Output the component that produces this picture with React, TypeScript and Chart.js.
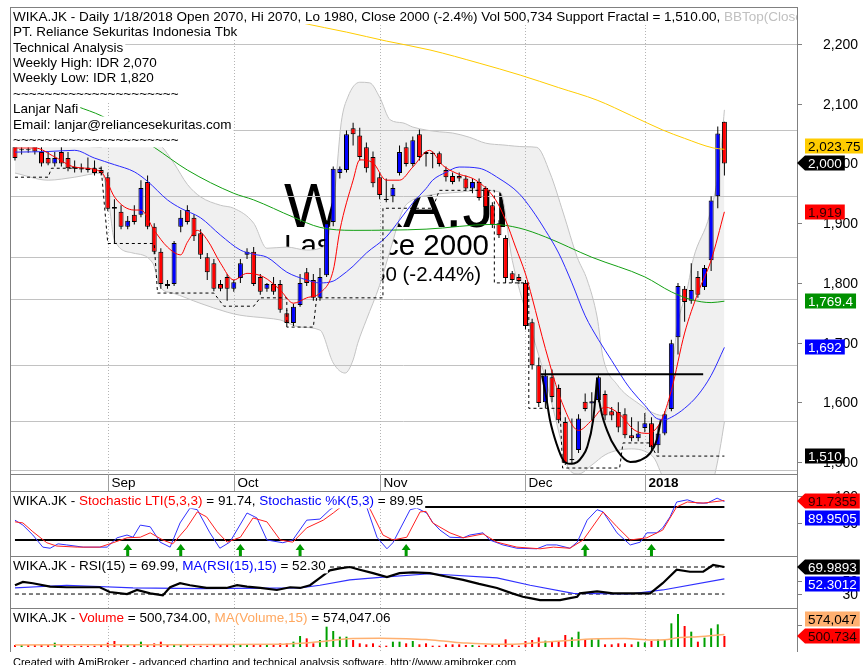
import React, { useEffect, useRef } from 'react';
import { Chart, registerables } from 'chart.js';

Chart.register(...registerables);

const FAMILY = '"Liberation Sans", Arial, Helvetica, sans-serif';
const font = (px: number, bold = false) => `${bold ? 'bold ' : ''}${px}px ${FAMILY}`;

type Knot = [number, number];

// ======================= DATA =======================
const SYMBOL = 'WIKA.JK';
const LAST_DATE = '1/18/2018';
const infoLines = [
  'PT. Reliance Sekuritas Indonesia Tbk',
  'Technical Analysis',
  'Weekly High: IDR 2,070',
  'Weekly Low: IDR 1,820',
  '~~~~~~~~~~~~~~~~~~~~~',
  'Lanjar Nafi',
  'Email: lanjar@reliancesekuritas.com',
  '~~~~~~~~~~~~~~~~~~~~~',
];

const monthLabels = ['Sep', 'Oct', 'Nov', 'Dec', '2018'];
const monthStartBar = [14, 33, 55, 77, 95];

const priceTicks = [2200, 2100, 2000, 1900, 1800, 1700, 1600, 1500];
const priceGridLevels = [2200, 2056, 1945, 1843, 1773, 1662, 1569, 1486];

const openP = [
  2028, 2022, 2024, 2028, 2019, 2009, 2000, 2019, 2009, 1994,
  1992, 1992, 1992, 1989, 1977, 1927, 1919, 1894, 1914, 1914,
  1969, 1894, 1852, 1798, 1798, 1894, 1922, 1909, 1883, 1843,
  1833, 1798, 1810, 1790, 1808, 1847, 1852, 1810, 1790, 1798,
  1798, 1749, 1733, 1763, 1818, 1805, 1775, 1813, 1902, 1984,
  1989, 2059, 2047, 2027, 2011, 1977, 1941, 1945, 1984, 2027,
  1999, 2049, 2019, 2018, 2017, 1989, 1979, 1979, 1975, 1958,
  1969, 1959, 1930, 1900, 1875, 1816, 1810, 1800, 1734, 1662,
  1600, 1642, 1624, 1567, 1503, 1520, 1601, 1598, 1604, 1614,
  1585, 1584, 1580, 1545, 1540, 1557, 1565, 1528, 1548, 1589,
  1709, 1790, 1770, 1810, 1793, 1838, 1945, 2070,
];
const highP = [
  2035, 2030, 2030, 2035, 2028, 2019, 2019, 2028, 2019, 2005,
  2000, 2010, 2005, 1995, 1985, 1940, 1930, 1912, 1930, 1972,
  1980, 1900, 1858, 1805, 1870, 1922, 1930, 1915, 1890, 1850,
  1840, 1805, 1815, 1805, 1840, 1858, 1860, 1815, 1800, 1810,
  1805, 1755, 1765, 1815, 1825, 1815, 1825, 1905, 1995, 1995,
  2055, 2068, 2060, 2035, 2020, 1985, 1975, 1965, 2030, 2035,
  2045, 2057, 2020, 2020, 2020, 1995, 1985, 1985, 1980, 1975,
  1975, 1962, 1935, 1905, 1880, 1820, 1815, 1805, 1740, 1675,
  1655, 1655, 1630, 1575, 1573, 1580, 1615, 1617, 1645, 1620,
  1592, 1600, 1590, 1575, 1568, 1582, 1575, 1560, 1585, 1705,
  1800, 1795, 1833, 1820, 1830, 1945, 2062, 2070,
];
const lowP = [
  2005, 2015, 2018, 2015, 1995, 1997, 1995, 1995, 1987, 1985,
  1985, 1985, 1980, 1980, 1920, 1867, 1890, 1890, 1898, 1910,
  1890, 1848, 1790, 1790, 1795, 1885, 1898, 1870, 1840, 1805,
  1786, 1786, 1770, 1785, 1800, 1840, 1795, 1780, 1785, 1780,
  1750, 1728, 1728, 1760, 1795, 1770, 1770, 1810, 1895, 1975,
  1985, 2030, 2005, 1985, 1960, 1940, 1935, 1935, 1980, 1995,
  1995, 2005, 1995, 1992, 1995, 1970, 1965, 1970, 1955, 1950,
  1938, 1922, 1892, 1875, 1800, 1800, 1798, 1722, 1655, 1592,
  1590, 1600, 1565, 1495, 1496, 1515, 1585, 1570, 1600, 1570,
  1570, 1550, 1540, 1535, 1535, 1550, 1520, 1515, 1545, 1585,
  1680, 1735, 1765, 1775, 1788, 1820, 1925, 1980,
];
const closeP = [
  2009, 2024, 2022, 2020, 2000, 2000, 2009, 2000, 1992, 1991,
  1990, 1989, 1984, 1984, 1924, 1924, 1894, 1904, 1902, 1959,
  1894, 1852, 1798, 1795, 1867, 1909, 1902, 1878, 1847, 1818,
  1790, 1790, 1790, 1801, 1833, 1852, 1798, 1785, 1798, 1785,
  1755, 1733, 1760, 1800, 1800, 1775, 1810, 1900, 1991, 1991,
  2049, 2049, 2011, 1992, 1967, 1947, 1939, 1959, 2019, 1999,
  2039, 2011, 2016, 2016, 1999, 1977, 1969, 1975, 1958, 1969,
  1942, 1927, 1897, 1880, 1808, 1805, 1803, 1728, 1662, 1599,
  1645, 1609, 1570, 1498, 1505, 1573, 1589, 1602, 1642, 1578,
  1578, 1558, 1545, 1540, 1548, 1565, 1525, 1548, 1580, 1699,
  1795, 1768, 1788, 1780, 1825, 1938, 2050, 2000,
];
const volume = [
  91000, 91000, 91000, 91000, 91000, 91000, 197000, 91000, 61000, 61000,
  61000, 61000, 61000, 91000, 197000, 273000, 91000, 121000, 91000, 243000,
  91000, 167000, 243000, 121000, 121000, 121000, 91000, 61000, 61000, 61000,
  91000, 91000, 121000, 91000, 121000, 121000, 91000, 91000, 91000, 91000,
  167000, 167000, 243000, 500000, 394000, 167000, 318000, 925000, 728000, 470000,
  470000, 318000, 167000, 121000, 167000, 61000, 61000, 243000, 243000, 167000,
  273000, 121000, 167000, 61000, 61000, 121000, 121000, 121000, 91000, 91000,
  61000, 91000, 91000, 91000, 349000, 91000, 61000, 273000, 318000, 440000,
  288000, 243000, 273000, 546000, 440000, 698000, 349000, 349000, 349000, 121000,
  121000, 167000, 167000, 121000, 243000, 212000, 273000, 349000, 349000, 1077000,
  1502000, 956000, 698000, 243000, 425000, 850000, 1032000, 500734,
];

// indicator readings (bar index, value)
const bbUpper: Knot[] = [
  [0, 2031], [7, 2034], [13, 2027], [14, 2042], [16, 2050], [18, 2050], [20, 2045], [22, 2030],
  [24, 2000], [26, 1965], [28, 1944], [31, 1930], [33, 1925], [36, 1900], [38, 1858], [41, 1860],
  [44, 1855], [46, 1858], [47.3, 1880], [48.3, 1960], [49.2, 2068], [50.2, 2111], [52, 2136],
  [53.5, 2135], [55, 2111], [56.6, 2073], [58.5, 2068], [60, 2061], [62, 2056], [64, 2053], [66, 2051],
  [68.5, 2044], [71, 2034], [73.6, 2031], [77, 2028], [78.7, 2027], [80.7, 1984], [82.7, 1917],
  [84.8, 1843], [86.3, 1805], [87.8, 1743], [88.7, 1675], [90.8, 1630], [93.8, 1600], [97.7, 1578],
  [98.8, 1610], [99.8, 1720], [101.4, 1790], [102.3, 1840], [104.8, 1915], [106.3, 2001], [107, 2089.77],
];
const bbLower: Knot[] = [
  [0, 1984], [5, 1972], [9, 1977], [13, 1984], [14, 1947], [15, 1872], [17.8, 1850], [20.8, 1833],
  [21.9, 1793], [23.8, 1783], [27.9, 1766], [32, 1751], [33.9, 1746], [38, 1741], [40, 1738], [43, 1726],
  [46, 1721], [48, 1666], [49.8, 1649], [51, 1671], [51.7, 1699], [53, 1738], [55, 1796], [56.6, 1855],
  [58.5, 1922], [60, 1939], [62.6, 1947], [67.1, 1952], [70, 1955], [73.2, 1952], [75, 1838], [78, 1716],
  [80.2, 1632], [82.7, 1520], [83.4, 1491], [85, 1480], [87, 1495], [89, 1512], [91, 1520], [93, 1522],
  [95, 1518], [96.5, 1505], [97.7, 1475], [99, 1455], [102, 1450], [104, 1455], [105.3, 1470],
  [106.3, 1520], [107, 1567.23],
];
const maYellow: Knot[] = [
  [38, 2249], [43.4, 2235], [50, 2220], [56, 2205], [62.6, 2190], [70, 2168], [76.2, 2148], [82, 2127],
  [87.8, 2106], [93, 2080], [97.7, 2056], [101, 2042], [105.3, 2026], [107, 2023.75],
];
const maGreen: Knot[] = [
  [9.5, 2095], [13, 2080], [17, 2055], [21, 2027], [26, 1989], [33, 1950], [36, 1939], [42, 1910],
  [46, 1893], [51, 1888], [62, 1890], [72, 1898], [76, 1892], [80, 1877], [87, 1843], [95, 1810],
  [99, 1785], [102, 1772], [105, 1767], [107, 1769.4],
];
const maBlue: Knot[] = [
  [0, 2019], [5, 2020], [9, 2022], [12, 2009], [15, 1998], [18, 1986], [20, 1970], [23, 1939],
  [25, 1925], [28, 1909], [31, 1880], [34, 1855], [36, 1848], [38, 1843], [41, 1818], [44, 1805],
  [46, 1800], [48, 1803], [49, 1810], [51, 1828], [53, 1850], [56, 1877], [58, 1905], [60, 1934],
  [62, 1958], [63, 1972], [65, 1985], [67, 1994], [70, 1992], [73, 1975], [76, 1950], [78, 1922],
  [80, 1888], [82, 1850], [84, 1800], [86, 1745], [88, 1705], [90, 1670], [92, 1635], [93, 1620],
  [95, 1595], [97, 1572], [98, 1571], [99, 1575], [101, 1590], [103, 1612], [105, 1645], [107, 1692],
];
const maRed: Knot[] = [
  [0, 2026], [3, 2026], [6, 2011], [9, 1994], [13, 1986], [14, 1967], [15, 1944], [18, 1922],
  [19, 1922], [21, 1888], [23, 1860], [25, 1847], [26, 1868], [27.5, 1888], [29, 1872], [31, 1833],
  [33, 1805], [35, 1816], [37.5, 1810], [40, 1788], [42, 1766], [44, 1775], [46, 1783], [48, 1821],
  [49, 1888], [51, 1972], [52, 2006], [54, 2001], [56, 1972], [58, 1972], [60, 1994], [62.5, 2022],
  [64.5, 1997], [66.5, 1984], [69.5, 1972], [72.5, 1939], [74, 1905], [75.5, 1860], [77, 1815],
  [78, 1775], [80, 1690], [82.5, 1600], [85, 1553], [87, 1570], [89, 1592], [91, 1582], [93.5, 1553],
  [95.5, 1548], [97.5, 1570], [99, 1620], [101, 1716], [103, 1783], [105, 1838], [107, 1919],
];
const supportFractal: Knot[] = [
  [0, 1977], [5, 1977], [5.5, 1992], [13, 1992], [14, 1866], [21, 1866], [21.5, 1783], [30, 1783],
  [31.5, 1761], [36, 1761], [37, 1775], [41, 1775], [41, 1726], [45, 1726], [45.5, 1775], [55.5, 1775],
  [55.5, 1925], [63, 1925], [64, 1955], [72.3, 1955], [72.3, 1800], [77.5, 1800], [77.5, 1590],
  [82.2, 1590], [82.6, 1490], [91.2, 1490], [91.7, 1532], [95.8, 1532], [96.8, 1510], [107, 1510],
];
const resistanceLine: Knot[] = [[79.3, 1647], [103.8, 1647]];
const cupLeft: Knot[] = [
  [79.5, 1645], [80.1, 1610], [80.7, 1570], [81.7, 1530], [82.7, 1503], [83.7, 1497], [84.8, 1500],
  [85.6, 1510], [86.3, 1525], [87.2, 1570], [87.8, 1640],
];
const cupRight: Knot[] = [
  [87.8, 1640], [88.1, 1605], [89.3, 1553], [90.8, 1520], [92.8, 1500], [94.3, 1503], [95.8, 1515],
  [96.8, 1537], [97.4, 1570],
];

const stochK: Knot[] = [
  [0, 56], [1.2, 47], [2.7, 29], [4.2, 7], [5.3, 5], [6.5, 13], [7.8, 11], [10.3, 7], [13.9, 7],
  [15.4, 24], [16.9, 29], [17.8, 25], [18.9, 47], [20.4, 44], [21.9, 16], [23.4, 7], [24.9, 51],
  [26.4, 78], [27.5, 75], [29.4, 33], [30.9, 5], [32.4, 16], [35, 69], [36.5, 60], [38, 20], [40.4, 15],
  [41.9, 20], [44, 56], [46, 58], [47.5, 75], [48.6, 84], [50, 96], [52, 97], [53.1, 78], [54.6, 25],
  [56.1, 4], [57, 15], [59.6, 75], [60.6, 78], [62.1, 69], [63, 52], [64.1, 38], [65.6, 25], [67.6, 24],
  [68.6, 29], [70.6, 33], [71.6, 20], [73.6, 11], [75.7, 5], [78.7, 4], [80.2, 11], [81.7, 11],
  [83.7, 5], [84.8, 16], [86.3, 56], [87.8, 75], [88.7, 71], [90.8, 33], [92.8, 11], [94.3, 16],
  [95.3, 33], [96.8, 33], [97.7, 42], [98.8, 62], [99.8, 89], [101.4, 93], [102.9, 87], [104.4, 87],
  [105.9, 96], [107, 89.9505],
];
const stochLTI: Knot[] = [
  [0, 53], [1.2, 51], [2.7, 35], [4.8, 15], [6.3, 9], [9.4, 7], [12.8, 7], [14.8, 15], [16.9, 24],
  [18.9, 25], [20.4, 33], [22.3, 20], [23.8, 13], [25.9, 42], [27.5, 71], [28.9, 62], [30.5, 35],
  [32, 16], [34, 25], [35.9, 60], [38, 53], [40, 20], [41.9, 16], [44, 42], [46.5, 56], [48, 69],
  [50, 88], [52.5, 92], [53.6, 75], [55.5, 29], [57, 20], [59.1, 25], [61.1, 71], [62, 72], [63, 51],
  [65.6, 33], [67.6, 24], [70.6, 31], [72.7, 16], [75.7, 7], [79.2, 4], [81.2, 7], [83.7, 5],
  [85.7, 20], [88.7, 71], [90.8, 44], [92.8, 20], [95.3, 24], [97.7, 38], [99.8, 80], [101.4, 89],
  [103.8, 87], [107, 91.7355],
];
const stochLevels = [80, 20];
const stochSignalBars = [17, 25, 34, 43, 59, 86, 96];

const rsi: Knot[] = [
  [0, 43], [1.2, 48], [2.7, 46], [5.3, 41], [7.8, 40], [12.8, 40], [14.3, 33], [16.9, 30], [18.4, 36],
  [20.4, 31], [22.3, 28], [23.4, 40], [24.9, 46], [26.4, 43], [28.9, 39], [31.9, 39], [33.5, 43],
  [35, 41], [37, 39], [39.5, 36], [41.5, 40], [43, 39], [44.5, 43], [46, 54], [47.5, 65], [49, 68],
  [50.5, 70], [52, 66], [54, 61], [56.1, 55], [58, 61], [60, 62], [62.6, 61], [65, 56], [67.6, 51],
  [70, 45], [72.7, 39], [75, 31], [76.6, 26], [77.7, 24], [79.2, 21], [82.2, 21], [83.7, 24],
  [84.8, 26], [85.2, 31], [87.8, 34], [90.2, 31], [92.7, 31], [95.8, 31], [97.7, 46], [99.8, 66],
  [101.8, 63], [103.8, 63], [105.3, 73], [107, 69.9893],
];
const rsiMA: Knot[] = [
  [0, 39], [7.8, 43], [17.8, 39], [28, 38], [43, 39], [46, 43], [50.5, 51], [55.5, 55], [62.6, 60],
  [72.7, 54], [77.7, 43], [84.2, 31], [92.7, 30], [97.7, 36], [107, 52.3012],
];
const rsiLevels = [70, 30];

const volumeMA: Knot[] = [
  [0, 95000], [20, 105000], [40, 120000], [43, 170000], [46, 240000], [48, 310000], [51, 390000],
  [55, 400000], [59, 380000], [62, 340000], [65, 260000], [68, 180000], [72, 125000], [76, 140000],
  [80, 230000], [84, 310000], [88, 380000], [92, 385000], [96, 320000], [98, 330000], [100, 420000],
  [103, 470000], [107, 574047.06],
];

// ======================= LAYOUT =======================
const W = 863;
const PAD = { left: 10, right: 66 };
const X_MIN = -0.75;
const X_MAX = 117.95;

const lastOf = (k: Knot[]) => k[k.length - 1][1];
const fmt = (v: number, d: number) =>
  v.toLocaleString('en-US', { minimumFractionDigits: d, maximumFractionDigits: d });
const fmtAuto = (v: number) => v.toLocaleString('en-US', { maximumFractionDigits: 2 });

const N = closeP.length;
const bars = closeP.map((_, i) => i);
const isUp = bars.map((i) => closeP[i] >= openP[i]);

function lineDs(k: Knot[], color: string, width = 1, smooth = true, extra: any = {}) {
  return {
    type: 'line',
    data: k.map(([x, y]) => ({ x, y })),
    borderColor: color,
    borderWidth: width,
    pointRadius: 0,
    fill: false,
    tension: 0,
    cubicInterpolationMode: smooth ? 'monotone' : 'default',
    ...extra,
  };
}

function baseOptions(yMin: number, yMax: number, top: number, bottom: number): any {
  return {
    responsive: false,
    animation: false,
    events: [],
    layout: { padding: { left: PAD.left, right: PAD.right, top, bottom } },
    plugins: { legend: { display: false }, tooltip: { enabled: false }, title: { display: false } },
    scales: {
      x: { type: 'linear', min: X_MIN, max: X_MAX, display: false, offset: false },
      y: { type: 'linear', min: yMin, max: yMax, display: false },
    },
  };
}

function hline(ctx: CanvasRenderingContext2D, x0: number, x1: number, y: number) {
  ctx.beginPath();
  ctx.moveTo(x0, y);
  ctx.lineTo(x1, y);
  ctx.stroke();
}
function vline(ctx: CanvasRenderingContext2D, x: number, y0: number, y1: number) {
  ctx.beginPath();
  ctx.moveTo(x, y0);
  ctx.lineTo(x, y1);
  ctx.stroke();
}

function drawTextLine(ctx: CanvasRenderingContext2D, x: number, base: number, segs: [string, string][], px = 13.5) {
  ctx.font = font(px);
  ctx.textAlign = 'left';
  ctx.textBaseline = 'alphabetic';
  const widths = segs.map((s) => ctx.measureText(s[0]).width);
  const total = widths.reduce((p, c) => p + c, 0);
  ctx.fillStyle = '#ffffff';
  ctx.fillRect(x - 2, base - 12, total + 4, 15.4);
  let cx = x;
  segs.forEach((s, k) => {
    ctx.fillStyle = s[1];
    ctx.fillText(s[0], cx, base);
    cx += widths[k];
  });
}

function drawMonthLines(chart: any) {
  const { ctx, chartArea: a, scales } = chart;
  ctx.save();
  ctx.strokeStyle = '#b4b4b4';
  ctx.lineWidth = 1;
  ctx.setLineDash([1, 2]);
  monthStartBar.forEach((b) => {
    const px = Math.round(scales.x.getPixelForValue(b)) + 0.5;
    vline(ctx, px, a.top, a.bottom);
  });
  ctx.restore();
}

type Box = { value: number; text: string; bg: string; fg: string; arrow?: boolean };

function drawBoxes(ctx: CanvasRenderingContext2D, yScale: any, axisX: number, boxes: Box[]) {
  const primary = boxes.find((b) => b.arrow);
  const py = primary ? yScale.getPixelForValue(primary.value) : null;
  const ordered = [...boxes.filter((b) => !b.arrow), ...boxes.filter((b) => b.arrow)];
  ordered.forEach((b) => {
    let cy = yScale.getPixelForValue(b.value);
    if (!b.arrow && py !== null && Math.abs(cy - py) < 17) cy = cy < py ? py - 17 : py + 17;
    cy = Math.round(cy);
    ctx.font = font(13.5);
    const tw = ctx.measureText(b.text).width;
    const x0 = axisX + 8;
    const x1 = x0 + tw + 6;
    const h = 15;
    ctx.fillStyle = b.bg;
    ctx.beginPath();
    if (b.arrow) {
      ctx.moveTo(axisX, cy);
      ctx.lineTo(x0, cy - h / 2);
    } else ctx.moveTo(x0, cy - h / 2);
    ctx.lineTo(x1, cy - h / 2);
    ctx.lineTo(x1, cy + h / 2);
    ctx.lineTo(x0, cy + h / 2);
    ctx.closePath();
    ctx.fill();
    ctx.fillStyle = b.fg;
    ctx.textAlign = 'left';
    ctx.textBaseline = 'middle';
    ctx.fillText(b.text, x0 + 3, cy + 1);
  });
}

function drawAxisTicks(ctx: CanvasRenderingContext2D, yScale: any, axisX: number, ticks: number[], label: (v: number) => string | null) {
  ctx.strokeStyle = '#808080';
  ctx.lineWidth = 1;
  ctx.font = font(14);
  ctx.fillStyle = '#000';
  ctx.textAlign = 'right';
  ctx.textBaseline = 'middle';
  ticks.forEach((v) => {
    const y = Math.round(yScale.getPixelForValue(v)) + 0.5;
    hline(ctx, axisX, axisX + 5, y);
    const t = label(v);
    if (t) ctx.fillText(t, W - 5, y + 1);
  });
}

// ---------------- main panel ----------------
const last = N - 1;
const chg = closeP[last] - closeP[last - 1];
const pct = (chg / closeP[last - 1]) * 100;

const mainPlugin = {
  id: 'mainDecor',
  beforeDatasetsDraw(chart: any) {
    const { ctx, chartArea: a } = chart;
    ctx.save();
    ctx.beginPath();
    ctx.rect(a.left, a.top, a.right - a.left, a.bottom - a.top);
    ctx.clip();
    ctx.fillStyle = '#000';
    ctx.textAlign = 'left';
    ctx.textBaseline = 'alphabetic';
    const x0 = a.left + 274;
    ctx.font = font(63);
    ctx.fillText(SYMBOL, x0, a.top + 220);
    ctx.font = font(29.5);
    ctx.fillText(`Last Price ${closeP[last]}`, x0, a.top + 248);
    ctx.font = font(20.5);
    ctx.fillText(`Change: ${chg} (${pct.toFixed(2)}%)`, x0, a.top + 274);
    ctx.restore();
  },
  afterDatasetDraw(chart: any, args: any) {
    if (args.index !== 1) return;
    const { ctx, chartArea: a, scales } = chart;
    ctx.save();
    ctx.strokeStyle = '#c2c2c2';
    ctx.lineWidth = 1;
    priceGridLevels.forEach((v) => {
      const y = Math.round(scales.y.getPixelForValue(v)) + 0.5;
      hline(ctx, a.left, a.right, y);
    });
    ctx.restore();
    drawMonthLines(chart);
  },
  afterDraw(chart: any) {
    const { ctx, chartArea: a, scales } = chart;
    ctx.save();
    // info block
    ctx.save();
    ctx.beginPath();
    ctx.rect(a.left + 1, a.top + 1, a.right - a.left - 1, a.bottom - a.top - 1);
    ctx.clip();
    const title: [string, string][] = [
      [
        `${SYMBOL} - Daily ${LAST_DATE} Open ${openP[last]}, Hi ${highP[last]}, Lo ${lowP[last]}, Close ${closeP[last]} (${pct.toFixed(1)}%) Vol ${fmt(volume[last], 0)} Support Fractal = ${fmt(lastOf(supportFractal), 2)}, `,
        '#000',
      ],
      [`BBTop(Close,20,2) = ${fmt(lastOf(bbUpper), 2)}, BBBot(Close,20,2) = ${fmt(lastOf(bbLower), 2)}`, '#c0c0c0'],
    ];
    const bx = a.left + 3;
    drawTextLine(ctx, bx, a.top + 13.7, title);
    infoLines.forEach((t, k) => drawTextLine(ctx, bx, a.top + 13.7 + 15.4 * (k + 1), [[t, '#000']]));
    ctx.restore();

    // frame
    ctx.strokeStyle = '#808080';
    ctx.lineWidth = 1;
    vline(ctx, a.left + 0.5, a.top, chart.height);
    vline(ctx, a.right + 0.5, a.top, chart.height);
    hline(ctx, a.left, a.right + 1, a.top + 0.5);
    hline(ctx, a.left, a.right + 1, a.bottom + 0.5);

    // date row
    monthStartBar.forEach((b, k) => {
      const px = Math.round(scales.x.getPixelForValue(b)) + 0.5;
      ctx.strokeStyle = '#a0a0a0';
      vline(ctx, px, a.bottom, chart.height);
      ctx.fillStyle = '#000';
      ctx.font = font(13.5, monthLabels[k] === '2018');
      ctx.textAlign = 'left';
      ctx.textBaseline = 'alphabetic';
      ctx.fillText(monthLabels[k], px + 3, a.bottom + 13);
    });

    // axis
    drawAxisTicks(ctx, scales.y, a.right, priceTicks, (v) => fmt(v, 0));
    drawBoxes(ctx, scales.y, a.right, [
      { value: lastOf(maYellow), text: fmtAuto(lastOf(maYellow)), bg: '#ffcc00', fg: '#000' },
      { value: closeP[last], text: fmtAuto(closeP[last]), bg: '#000', fg: '#fff', arrow: true },
      { value: lastOf(maRed), text: fmtAuto(lastOf(maRed)), bg: '#ff0000', fg: '#300000' },
      { value: lastOf(maGreen), text: fmtAuto(lastOf(maGreen)), bg: '#009000', fg: '#fff' },
      { value: lastOf(maBlue), text: fmtAuto(lastOf(maBlue)), bg: '#0000ff', fg: '#fff' },
      { value: lastOf(supportFractal), text: fmtAuto(lastOf(supportFractal)), bg: '#000', fg: '#fff' },
    ]);
    ctx.restore();
  },
};

function mainConfig(): any {
  return {
    type: 'line',
    data: {
      datasets: [
        lineDs(bbUpper, '#c4c4c4', 1, true, { fill: '+1', backgroundColor: '#f0f0f0', order: 100 }),
        lineDs(bbLower, '#c4c4c4', 1, true, { order: 99 }),
        {
          type: 'bar',
          data: bars.map((i) => ({ x: i, y: [lowP[i], highP[i]] })),
          backgroundColor: '#000',
          barThickness: 1,
          grouped: false,
          inflateAmount: 0,
          order: 60,
        },
        {
          type: 'bar',
          data: bars.map((i) => ({ x: i, y: [openP[i], closeP[i]] })),
          backgroundColor: bars.map((i) => (isUp[i] ? '#0000ff' : '#ff0000')),
          borderColor: '#000',
          borderWidth: 1,
          borderSkipped: false,
          barThickness: 5,
          grouped: false,
          inflateAmount: 0,
          order: 59,
        },
        lineDs(maYellow, '#ffcc00', 1, true, { order: 40 }),
        lineDs(maGreen, '#13a013', 1, true, { order: 39 }),
        lineDs(maBlue, '#2a2aff', 1, true, { order: 38 }),
        lineDs(supportFractal, '#000', 1, false, { borderDash: [3, 3], order: 37 }),
        lineDs(maRed, '#ff0000', 1, true, { order: 10 }),
        lineDs(resistanceLine, '#000', 2, false, { order: 3 }),
        lineDs(cupLeft, '#000', 2, true, { order: 2 }),
        lineDs(cupRight, '#000', 2, true, { order: 1 }),
      ],
    },
    options: baseOptions(1480, 2262, 7, 17),
    plugins: [mainPlugin],
  };
}

// ---------------- sub panels ----------------
function subPlugin(id: string, title: () => [string, string][], ticks: number[], tickLabel: (v: number) => string | null, boxes: () => Box[], extra?: (chart: any) => void, footer?: string) {
  return {
    id,
    beforeDatasetsDraw(chart: any) {
      drawMonthLines(chart);
    },
    afterDatasetsDraw(chart: any) {
      if (extra) extra(chart);
    },
    afterDraw(chart: any) {
      const { ctx, chartArea: a, scales } = chart;
      ctx.save();
      ctx.save();
      ctx.beginPath();
      ctx.rect(a.left + 1, a.top + 1, a.right - a.left - 1, a.bottom - a.top - 1);
      ctx.clip();
      drawTextLine(ctx, a.left + 3, a.top + 14, title());
      ctx.restore();
      ctx.strokeStyle = '#808080';
      ctx.lineWidth = 1;
      vline(ctx, a.left + 0.5, a.top, a.bottom);
      vline(ctx, a.right + 0.5, a.top, a.bottom);
      hline(ctx, a.left, a.right + 1, a.top + 0.5);
      drawAxisTicks(ctx, scales.y, a.right, ticks, tickLabel);
      drawBoxes(ctx, scales.y, a.right, boxes());
      if (footer) {
        ctx.fillStyle = '#000';
        ctx.font = font(11);
        ctx.textAlign = 'left';
        ctx.textBaseline = 'alphabetic';
        ctx.fillText(footer, a.left + 3, chart.height + 1);
      }
      ctx.restore();
    },
  };
}

function levelDs(level: number, color: string, width: number, dash: number[] = []) {
  return lineDs([[0, level], [N - 1, level]], color, width, false, { borderDash: dash });
}

function stochConfig(): any {
  const arrows = (chart: any) => {
    const { ctx, chartArea: a, scales } = chart;
    ctx.save();
    ctx.fillStyle = '#009a00';
    stochSignalBars.forEach((b) => {
      const px = scales.x.getPixelForValue(b);
      const yb = a.bottom;
      ctx.beginPath();
      ctx.moveTo(px, yb - 12);
      ctx.lineTo(px + 4.5, yb - 6);
      ctx.lineTo(px + 1.5, yb - 6);
      ctx.lineTo(px + 1.5, yb);
      ctx.lineTo(px - 1.5, yb);
      ctx.lineTo(px - 1.5, yb - 6);
      ctx.lineTo(px - 4.5, yb - 6);
      ctx.closePath();
      ctx.fill();
    });
    ctx.restore();
  };
  const plugin = subPlugin(
    'stochDecor',
    () => [
      [`${SYMBOL} - `, '#000'],
      ['Stochastic LTI(5,3,3)', '#ff0000'],
      [` = ${lastOf(stochLTI).toFixed(2)}, `, '#000'],
      ['Stochastic %K(5,3)', '#0000ff'],
      [` = ${lastOf(stochK).toFixed(2)}`, '#000'],
    ],
    [100, 50],
    (v) => String(v),
    () => [
      { value: lastOf(stochLTI), text: lastOf(stochLTI).toFixed(4), bg: '#ff0000', fg: '#300000', arrow: true },
      { value: lastOf(stochK), text: lastOf(stochK).toFixed(4), bg: '#0000ff', fg: '#fff' },
    ],
    arrows,
  );
  return {
    type: 'line',
    data: {
      datasets: [
        ...stochLevels.map((l) => ({ ...levelDs(l, '#000', 2), order: 10 })),
        lineDs(stochK, '#3030ff', 1, false, { order: 2 }),
        lineDs(stochLTI, '#ff2020', 1, false, { order: 1 }),
      ],
    },
    options: baseOptions(-9.1, 109, 0, 0),
    plugins: [plugin],
  };
}

function rsiConfig(): any {
  const plugin = subPlugin(
    'rsiDecor',
    () => [
      [`${SYMBOL} - RSI(15) = ${lastOf(rsi).toFixed(2)}, `, '#000'],
      ['MA(RSI(15),15)', '#0000ff'],
      [` = ${lastOf(rsiMA).toFixed(2)}`, '#000'],
    ],
    [70, 50, 30],
    (v) => String(v),
    () => [
      { value: lastOf(rsi), text: lastOf(rsi).toFixed(4), bg: '#000', fg: '#fff', arrow: true },
      { value: lastOf(rsiMA), text: lastOf(rsiMA).toFixed(4), bg: '#0000ff', fg: '#fff' },
    ],
  );
  return {
    type: 'line',
    data: {
      datasets: [
        ...rsiLevels.map((l) => ({ ...levelDs(l, '#000', 1, [4, 3]), order: 10 })),
        lineDs(rsiMA, '#3030ff', 1.2, false, { order: 2 }),
        lineDs(rsi, '#000', 2.2, false, { order: 1 }),
      ],
    },
    options: baseOptions(9.3, 86.3, 0, 0),
    plugins: [plugin],
  };
}

function volConfig(): any {
  const plugin = subPlugin(
    'volDecor',
    () => [
      [`${SYMBOL} - `, '#000'],
      ['Volume', '#ff0000'],
      [` = ${fmt(volume[last], 2)}, `, '#000'],
      ['MA(Volume,15)', '#ffa860'],
      [` = ${fmt(lastOf(volumeMA), 2)}`, '#000'],
    ],
    [1000000],
    () => null,
    () => [
      { value: lastOf(volumeMA), text: fmt(lastOf(volumeMA), 0), bg: '#ffb070', fg: '#000' },
      { value: volume[last], text: fmt(volume[last], 0), bg: '#ff0000', fg: '#200000', arrow: true },
    ],
    undefined,
    'Created with AmiBroker - advanced charting and technical analysis software. http://www.amibroker.com',
  );
  return {
    type: 'line',
    data: {
      datasets: [
        {
          type: 'bar',
          data: bars.map((i) => ({ x: i, y: volume[i] })),
          backgroundColor: bars.map((i) => (isUp[i] ? '#00a000' : '#ff0000')),
          barThickness: 2,
          grouped: false,
          inflateAmount: 0,
          order: 5,
        },
        lineDs(volumeMA, '#ffb070', 1.5, true, { order: 1 }),
      ],
    },
    options: baseOptions(-227000, 1775000, 0, 13),
    plugins: [plugin],
  };
}

export default function App() {
  const mainRef = useRef<HTMLCanvasElement>(null);
  const stochRef = useRef<HTMLCanvasElement>(null);
  const rsiRef = useRef<HTMLCanvasElement>(null);
  const volRef = useRef<HTMLCanvasElement>(null);

  useEffect(() => {
    const charts = [
      new Chart(mainRef.current as HTMLCanvasElement, mainConfig()),
      new Chart(stochRef.current as HTMLCanvasElement, stochConfig()),
      new Chart(rsiRef.current as HTMLCanvasElement, rsiConfig()),
      new Chart(volRef.current as HTMLCanvasElement, volConfig()),
    ];
    return () => charts.forEach((c) => c.destroy());
  }, []);

  const abs = (top: number): React.CSSProperties => ({ position: 'absolute', left: 0, top, display: 'block' });

  return (
    <div style={{ position: 'absolute', left: 0, top: 0, width: W, height: 665, background: '#fff', overflow: 'hidden' }}>
      <canvas ref={mainRef} width={W} height={491} style={abs(0)} />
      <canvas ref={stochRef} width={W} height={65} style={abs(491)} />
      <canvas ref={rsiRef} width={W} height={52} style={abs(556)} />
      <canvas ref={volRef} width={W} height={57} style={abs(608)} />
    </div>
  );
}
